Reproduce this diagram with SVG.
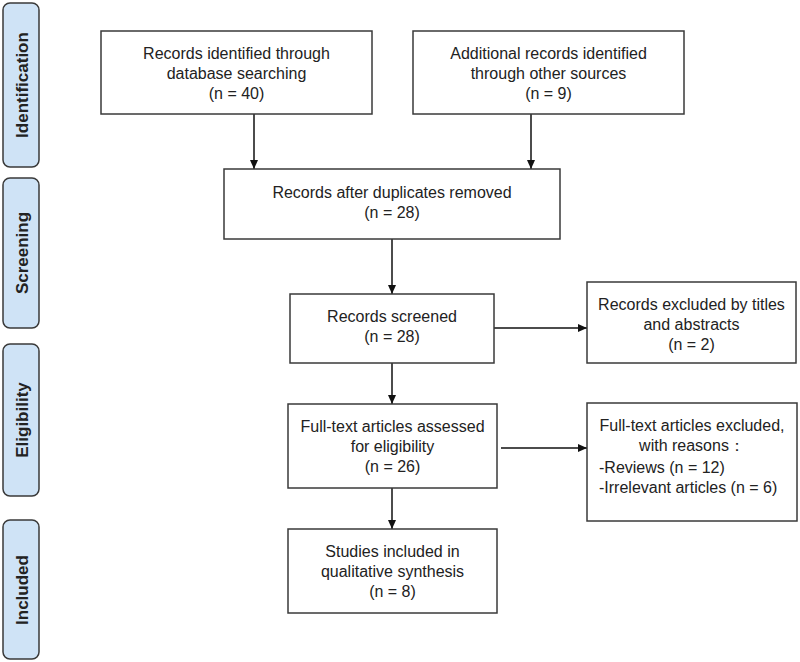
<svg xmlns="http://www.w3.org/2000/svg" width="800" height="662" viewBox="0 0 800 662">
<style>
.side{fill:#cfe3f6;stroke:#3a3a3a;stroke-width:1.5}
.side-t{font-family:"Liberation Sans",Arial,sans-serif;font-size:17px;font-weight:bold;fill:#222;text-anchor:middle}
.box{fill:#fff;stroke:#3a3a3a;stroke-width:1.5}
.t{font-family:"Liberation Sans",Arial,sans-serif;font-size:16px;fill:#222;text-anchor:middle}
.tl{font-family:"Liberation Sans",Arial,sans-serif;font-size:16px;fill:#222}
.c{stroke:#111;stroke-width:1.5;fill:none;marker-end:url(#ah)}
</style>
<defs>
<marker id="ah" markerWidth="10" markerHeight="10" refX="9" refY="5" orient="auto" markerUnits="userSpaceOnUse">
<path d="M0,1 L9,5 L0,9 Z" fill="#111"/>
</marker>
</defs>
<rect width="800" height="662" fill="#fff"/>
<g id="stage-identification">
<rect class="side" x="3" y="3" width="36" height="164" rx="7"/>
<text class="side-t" transform="translate(28,85) rotate(-90)">Identification</text>
</g>
<g id="stage-screening">
<rect class="side" x="3" y="178" width="36" height="150" rx="7"/>
<text class="side-t" transform="translate(28,253) rotate(-90)">Screening</text>
</g>
<g id="stage-eligibility">
<rect class="side" x="3" y="344" width="36" height="152" rx="7"/>
<text class="side-t" transform="translate(28,420) rotate(-90)">Eligibility</text>
</g>
<g id="stage-included">
<rect class="side" x="3" y="520" width="36" height="139" rx="7"/>
<text class="side-t" transform="translate(28,590) rotate(-90)">Included</text>
</g>
<g id="connectors">
<line class="c" x1="254" y1="114" x2="254" y2="169"/>
<line class="c" x1="531" y1="114" x2="531" y2="169"/>
<line class="c" x1="392" y1="239" x2="392" y2="294"/>
<line class="c" x1="494" y1="328" x2="587" y2="328"/>
<line class="c" x1="392" y1="363" x2="392" y2="404"/>
<line class="c" x1="501" y1="448" x2="587" y2="448"/>
<line class="c" x1="392" y1="488" x2="392" y2="529"/>
</g>
<g id="n1">
<rect class="box" x="101" y="31" width="271" height="83"/>
<text class="t" x="236.5" y="59">Records identified through</text>
<text class="t" x="236.5" y="79">database searching</text>
<text class="t" x="236.5" y="99">(n = 40)</text>
</g>
<g id="n2">
<rect class="box" x="413" y="31" width="271" height="83"/>
<text class="t" x="548.5" y="59">Additional records identified</text>
<text class="t" x="548.5" y="79">through other sources</text>
<text class="t" x="548.5" y="99">(n = 9)</text>
</g>
<g id="n3">
<rect class="box" x="224" y="169" width="336" height="70"/>
<text class="t" x="392" y="198">Records after duplicates removed</text>
<text class="t" x="392" y="218">(n = 28)</text>
</g>
<g id="n4">
<rect class="box" x="290" y="294" width="204" height="69"/>
<text class="t" x="392" y="322">Records screened</text>
<text class="t" x="392" y="342">(n = 28)</text>
</g>
<g id="n5">
<rect class="box" x="587" y="282" width="209" height="81"/>
<text class="t" x="691.5" y="310">Records excluded by titles</text>
<text class="t" x="691.5" y="330">and abstracts</text>
<text class="t" x="691.5" y="350">(n = 2)</text>
</g>
<g id="n6">
<rect class="box" x="288" y="404" width="209" height="84"/>
<text class="t" x="392.5" y="432">Full-text articles assessed</text>
<text class="t" x="392.5" y="452">for eligibility</text>
<text class="t" x="392.5" y="472">(n = 26)</text>
</g>
<g id="n7">
<rect class="box" x="587" y="403" width="210" height="118"/>
<text class="t" x="692" y="431">Full-text articles excluded,</text>
<text class="t" x="692" y="451">with reasons：</text>
<text class="tl" x="599" y="473">-Reviews (n = 12)</text>
<text class="tl" x="599" y="493">-Irrelevant articles (n = 6)</text>
</g>
<g id="n8">
<rect class="box" x="288" y="529" width="209" height="84"/>
<text class="t" x="392.5" y="557">Studies included in</text>
<text class="t" x="392.5" y="577">qualitative synthesis</text>
<text class="t" x="392.5" y="597">(n = 8)</text>
</g>
</svg>
